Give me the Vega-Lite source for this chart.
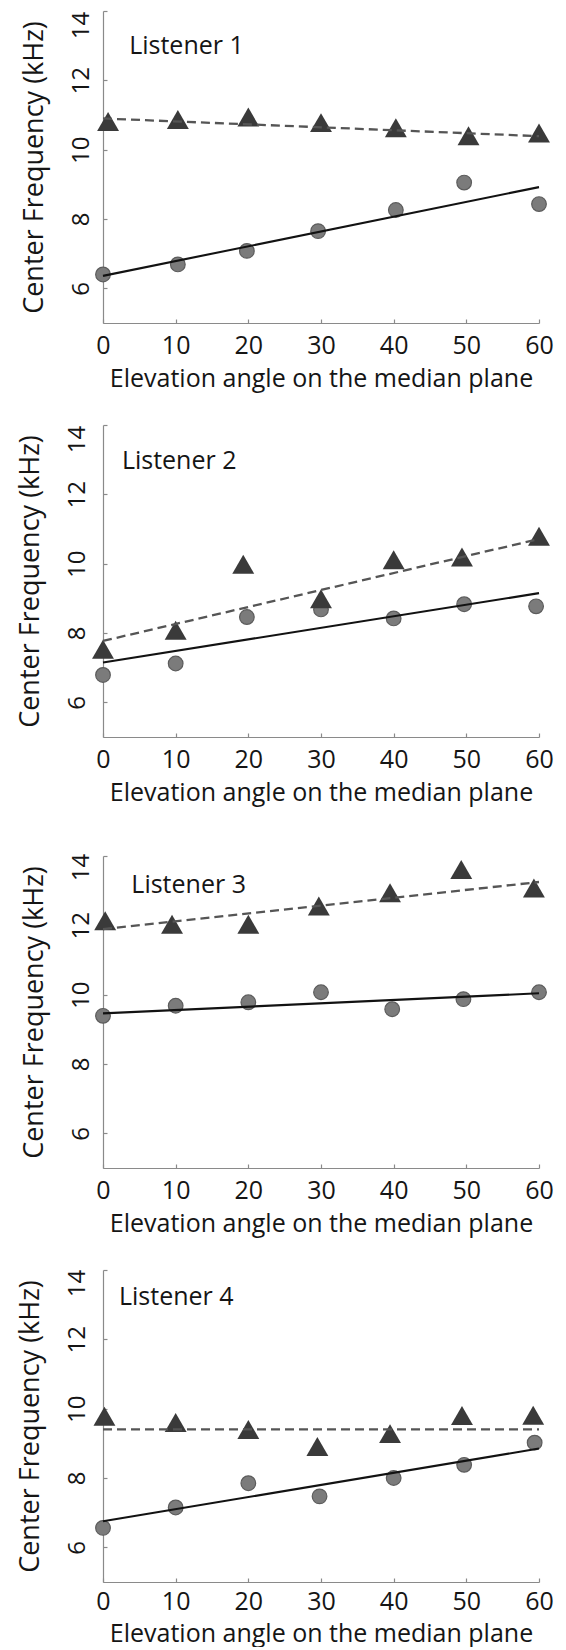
{
  "$schema": "https://vega.github.io/schema/vega-lite/v6.json",
  "padding": {"left": 15, "top": 10, "right": 5, "bottom": 1},
  "background": "white",
  "data": {"values": [
    {"L":1,"k":"t","a":0.7,"f":10.81},{"L":1,"k":"t","a":10.3,"f":10.87},{"L":1,"k":"t","a":20,"f":10.94},{"L":1,"k":"t","a":30,"f":10.78},{"L":1,"k":"t","a":40.3,"f":10.63},{"L":1,"k":"t","a":50.3,"f":10.4},{"L":1,"k":"t","a":60,"f":10.48},
    {"L":1,"k":"c","a":0,"f":6.4},{"L":1,"k":"c","a":10.3,"f":6.69},{"L":1,"k":"c","a":19.8,"f":7.08},{"L":1,"k":"c","a":29.6,"f":7.65},{"L":1,"k":"c","a":40.3,"f":8.26},{"L":1,"k":"c","a":49.7,"f":9.05},{"L":1,"k":"c","a":60,"f":8.43},
    {"L":1,"k":"ft","a":0,"f":10.9},{"L":1,"k":"ft","a":60,"f":10.39},
    {"L":1,"k":"fc","a":0,"f":6.36},{"L":1,"k":"fc","a":60,"f":8.92},
    {"L":1,"k":"lab","a":3.6,"f":12.76,"s":"Listener 1"},
    {"L":2,"k":"t","a":0,"f":7.53},{"L":2,"k":"t","a":10,"f":8.08},{"L":2,"k":"t","a":19.3,"f":9.98},{"L":2,"k":"t","a":30,"f":8.99},{"L":2,"k":"t","a":40,"f":10.11},{"L":2,"k":"t","a":49.4,"f":10.19},{"L":2,"k":"t","a":60,"f":10.79},
    {"L":2,"k":"c","a":0,"f":6.79},{"L":2,"k":"c","a":10,"f":7.12},{"L":2,"k":"c","a":19.8,"f":8.46},{"L":2,"k":"c","a":30,"f":8.68},{"L":2,"k":"c","a":40,"f":8.42},{"L":2,"k":"c","a":49.7,"f":8.83},{"L":2,"k":"c","a":59.6,"f":8.77},
    {"L":2,"k":"ft","a":0,"f":7.77},{"L":2,"k":"ft","a":60,"f":10.71},
    {"L":2,"k":"fc","a":0,"f":7.15},{"L":2,"k":"fc","a":60,"f":9.15},
    {"L":2,"k":"lab","a":2.6,"f":12.74,"s":"Listener 2"},
    {"L":3,"k":"t","a":0.3,"f":12.13},{"L":3,"k":"t","a":9.5,"f":12.03},{"L":3,"k":"t","a":20,"f":12.03},{"L":3,"k":"t","a":29.7,"f":12.56},{"L":3,"k":"t","a":39.5,"f":12.94},{"L":3,"k":"t","a":49.3,"f":13.61},{"L":3,"k":"t","a":59.3,"f":13.08},
    {"L":3,"k":"c","a":0,"f":9.39},{"L":3,"k":"c","a":10,"f":9.68},{"L":3,"k":"c","a":20,"f":9.78},{"L":3,"k":"c","a":30,"f":10.07},{"L":3,"k":"c","a":39.8,"f":9.58},{"L":3,"k":"c","a":49.6,"f":9.87},{"L":3,"k":"c","a":60,"f":10.07},
    {"L":3,"k":"ft","a":0,"f":11.89},{"L":3,"k":"ft","a":60,"f":13.25},
    {"L":3,"k":"fc","a":0,"f":9.46},{"L":3,"k":"fc","a":60,"f":10.04},
    {"L":3,"k":"lab","a":3.9,"f":12.94,"s":"Listener 3"},
    {"L":4,"k":"t","a":0.2,"f":9.78},{"L":4,"k":"t","a":10,"f":9.6},{"L":4,"k":"t","a":20,"f":9.4},{"L":4,"k":"t","a":29.5,"f":8.91},{"L":4,"k":"t","a":39.5,"f":9.28},{"L":4,"k":"t","a":49.4,"f":9.8},{"L":4,"k":"t","a":59.2,"f":9.81},
    {"L":4,"k":"c","a":0,"f":6.56},{"L":4,"k":"c","a":10,"f":7.15},{"L":4,"k":"c","a":20,"f":7.85},{"L":4,"k":"c","a":29.8,"f":7.47},{"L":4,"k":"c","a":40,"f":8.0},{"L":4,"k":"c","a":49.7,"f":8.38},{"L":4,"k":"c","a":59.4,"f":9.02},
    {"L":4,"k":"ft","a":0,"f":9.4},{"L":4,"k":"ft","a":60,"f":9.4},
    {"L":4,"k":"fc","a":0,"f":6.75},{"L":4,"k":"fc","a":60,"f":8.85},
    {"L":4,"k":"lab","a":2.2,"f":13.0,"s":"Listener 4"}
  ]},
  "columns": 1,
  "align": "none",
  "spacing": 33,
  "concat": [
    {
      "transform": [{"filter": "datum.L === 1"}],
      "width": 436, "height": 312,
      "encoding": {
        "x": {"field": "a", "type": "quantitative", "scale": {"domain": [0, 60], "nice": false, "zero": false},
          "axis": {"values": [0, 10, 20, 30, 40, 50, 60], "title": "Elevation angle on the median plane"}},
        "y": {"field": "f", "type": "quantitative", "scale": {"domain": [5, 14], "nice": false, "zero": false},
          "axis": {"values": [6, 8, 10, 12, 14], "title": "Center Frequency (kHz)",
            "labelOffset": {"condition": {"test": "datum.value === 14", "value": 14}, "value": 0}}}
      },
      "layer": [
        {"transform": [{"filter": "datum.k === 'c'"}], "mark": {"type": "point", "shape": "circle", "filled": true, "size": 215, "fill": "#7b7b7b", "stroke": "#5c5c5c", "strokeWidth": 1.2, "opacity": 1}},
        {"transform": [{"filter": "datum.k === 't'"}], "mark": {"type": "point", "shape": "triangle-up", "filled": true, "size": 480, "color": "#3a3a3a", "opacity": 1}},
        {"transform": [{"filter": "datum.k === 'fc'"}], "mark": {"type": "line", "color": "#121212", "strokeWidth": 2.1}, "encoding": {}},
        {"transform": [{"filter": "datum.k === 'ft'"}], "mark": {"type": "line", "color": "#555555", "strokeWidth": 2.3, "strokeDash": [9, 5]}, "encoding": {}},
        {"transform": [{"filter": "datum.k === 'lab'"}], "mark": {"type": "text", "align": "left", "baseline": "alphabetic", "font": "Open Sans", "fontSize": 25, "color": "#151515"}, "encoding": {"text": {"field": "s"}}}
      ]
    },
    {
      "transform": [{"filter": "datum.L === 2"}],
      "width": 436, "height": 312,
      "encoding": {
        "x": {"field": "a", "type": "quantitative", "scale": {"domain": [0, 60], "nice": false, "zero": false},
          "axis": {"values": [0, 10, 20, 30, 40, 50, 60], "title": "Elevation angle on the median plane"}},
        "y": {"field": "f", "type": "quantitative", "scale": {"domain": [5, 14], "nice": false, "zero": false},
          "axis": {"values": [6, 8, 10, 12, 14], "title": "Center Frequency (kHz)", "labelPadding": 18,
            "labelOffset": {"condition": {"test": "datum.value === 14", "value": 14}, "value": 0}}}
      },
      "layer": [
        {"transform": [{"filter": "datum.k === 'c'"}], "mark": {"type": "point", "shape": "circle", "filled": true, "size": 215, "fill": "#7b7b7b", "stroke": "#5c5c5c", "strokeWidth": 1.2, "opacity": 1}},
        {"transform": [{"filter": "datum.k === 't'"}], "mark": {"type": "point", "shape": "triangle-up", "filled": true, "size": 480, "color": "#3a3a3a", "opacity": 1}},
        {"transform": [{"filter": "datum.k === 'fc'"}], "mark": {"type": "line", "color": "#121212", "strokeWidth": 2.1}, "encoding": {}},
        {"transform": [{"filter": "datum.k === 'ft'"}], "mark": {"type": "line", "color": "#555555", "strokeWidth": 2.3, "strokeDash": [9, 5]}, "encoding": {}},
        {"transform": [{"filter": "datum.k === 'lab'"}], "mark": {"type": "text", "align": "left", "baseline": "alphabetic", "font": "Open Sans", "fontSize": 25, "color": "#151515"}, "encoding": {"text": {"field": "s"}}}
      ]
    },
    {
      "title": {"text": " ", "fontSize": 2, "offset": 13},
      "transform": [{"filter": "datum.L === 3"}],
      "width": 436, "height": 312,
      "encoding": {
        "x": {"field": "a", "type": "quantitative", "scale": {"domain": [0, 60], "nice": false, "zero": false},
          "axis": {"values": [0, 10, 20, 30, 40, 50, 60], "title": "Elevation angle on the median plane"}},
        "y": {"field": "f", "type": "quantitative", "scale": {"domain": [5, 14], "nice": false, "zero": false},
          "axis": {"values": [6, 8, 10, 12, 14], "title": "Center Frequency (kHz)",
            "labelOffset": {"condition": {"test": "datum.value === 14", "value": 11}, "value": 0}}}
      },
      "layer": [
        {"transform": [{"filter": "datum.k === 'c'"}], "mark": {"type": "point", "shape": "circle", "filled": true, "size": 215, "fill": "#7b7b7b", "stroke": "#5c5c5c", "strokeWidth": 1.2, "opacity": 1}},
        {"transform": [{"filter": "datum.k === 't'"}], "mark": {"type": "point", "shape": "triangle-up", "filled": true, "size": 480, "color": "#3a3a3a", "opacity": 1}},
        {"transform": [{"filter": "datum.k === 'fc'"}], "mark": {"type": "line", "color": "#121212", "strokeWidth": 2.1}, "encoding": {}},
        {"transform": [{"filter": "datum.k === 'ft'"}], "mark": {"type": "line", "color": "#555555", "strokeWidth": 2.3, "strokeDash": [9, 5]}, "encoding": {}},
        {"transform": [{"filter": "datum.k === 'lab'"}], "mark": {"type": "text", "align": "left", "baseline": "alphabetic", "font": "Open Sans", "fontSize": 25, "color": "#151515"}, "encoding": {"text": {"field": "s"}}}
      ]
    },
    {
      "transform": [{"filter": "datum.L === 4"}],
      "width": 436, "height": 312,
      "encoding": {
        "x": {"field": "a", "type": "quantitative", "scale": {"domain": [0, 60], "nice": false, "zero": false},
          "axis": {"values": [0, 10, 20, 30, 40, 50, 60], "title": "Elevation angle on the median plane", "labelPadding": 11, "titlePadding": 7}},
        "y": {"field": "f", "type": "quantitative", "scale": {"domain": [5, 14], "nice": false, "zero": false},
          "axis": {"values": [6, 8, 10, 12, 14], "title": "Center Frequency (kHz)", "labelPadding": 18,
            "labelOffset": {"condition": {"test": "datum.value === 14", "value": 13}, "value": 0}}}
      },
      "layer": [
        {"transform": [{"filter": "datum.k === 'c'"}], "mark": {"type": "point", "shape": "circle", "filled": true, "size": 215, "fill": "#7b7b7b", "stroke": "#5c5c5c", "strokeWidth": 1.2, "opacity": 1}},
        {"transform": [{"filter": "datum.k === 't'"}], "mark": {"type": "point", "shape": "triangle-up", "filled": true, "size": 480, "color": "#3a3a3a", "opacity": 1}},
        {"transform": [{"filter": "datum.k === 'fc'"}], "mark": {"type": "line", "color": "#121212", "strokeWidth": 2.1}, "encoding": {}},
        {"transform": [{"filter": "datum.k === 'ft'"}], "mark": {"type": "line", "color": "#555555", "strokeWidth": 2.3, "strokeDash": [9, 5]}, "encoding": {}},
        {"transform": [{"filter": "datum.k === 'lab'"}], "mark": {"type": "text", "align": "left", "baseline": "alphabetic", "font": "Open Sans", "fontSize": 25, "color": "#151515"}, "encoding": {"text": {"field": "s"}}}
      ]
    }
  ],
  "config": {
    "view": {"stroke": null},
    "font": "Open Sans",
    "axis": {"grid": false, "domainColor": "#8a8a8a", "domainWidth": 1.2, "tickColor": "#8a8a8a", "tickWidth": 1.2, "tickSize": -4,
      "labelFont": "Open Sans", "titleFont": "Open Sans", "labelColor": "#151515", "titleColor": "#151515", "titleFontWeight": "normal", "labelOverlap": false},
    "axisX": {"labelFontSize": 25, "titleFontSize": 25, "labelPadding": 14, "titlePadding": 8, "labelFlush": false},
    "axisY": {"labelFontSize": 24, "titleFontSize": 27, "labelAngle": -90, "labelAlign": "center", "labelBaseline": "bottom", "labelPadding": 14, "titlePadding": 21, "labelFlush": false}
  }
}
